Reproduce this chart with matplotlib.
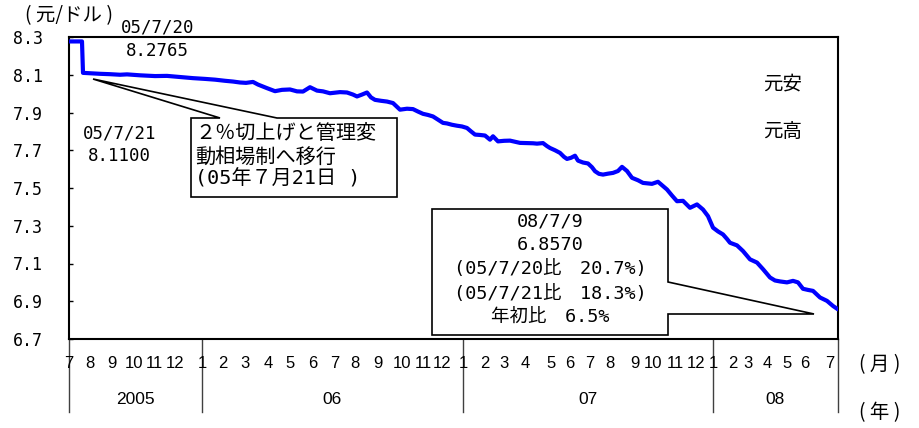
import matplotlib
matplotlib.use('Agg')
import matplotlib.pyplot as plt
from matplotlib.patches import Polygon
import matplotlib.transforms as mtransforms

# ---------------- data ----------------
# trading-day index (from 2005-07-01) and CNY/USD rate
day_idx = [0, 13, 14, 21, 31, 41, 51, 58, 71, 86, 98, 111, 124, 136, 146, 156, 164,
           171, 177, 184, 189, 198, 206, 213, 221, 228, 234, 241, 248, 254, 261, 271,
           278, 284, 288, 293, 298, 302, 306, 312, 318, 324, 331, 338, 344, 349, 354,
           359, 364, 369, 374, 378, 383, 388, 393, 398, 402, 406, 411, 416, 421, 424,
           429, 435, 441, 446, 451, 458, 464, 468, 474, 478, 481, 486, 491, 495, 498,
           502, 506, 509, 514, 519, 523, 526, 530, 534, 539, 544, 549, 553, 558, 563,
           569, 574, 579, 583, 589, 594, 598, 603, 608, 614, 621, 628, 634, 639, 644,
           649, 654, 658, 661, 668, 674, 681, 688, 694, 701, 706, 711, 718, 724, 729,
           734, 739, 744, 751, 758, 764, 769]
rate = [8.2765, 8.2765, 8.110, 8.108, 8.105, 8.103, 8.100, 8.102, 8.097, 8.093, 8.094,
        8.088, 8.082, 8.078, 8.074, 8.068, 8.064, 8.059, 8.057, 8.062, 8.048, 8.029,
        8.013, 8.020, 8.022, 8.012, 8.011, 8.034, 8.016, 8.012, 8.002, 8.008, 8.006,
        7.995, 7.985, 7.995, 8.006, 7.980, 7.967, 7.962, 7.958, 7.950, 7.915, 7.920,
        7.918, 7.905, 7.893, 7.887, 7.879, 7.862, 7.845, 7.842, 7.835, 7.830, 7.826,
        7.818, 7.800, 7.783, 7.781, 7.778, 7.756, 7.774, 7.747, 7.750, 7.751, 7.745,
        7.739, 7.738, 7.737, 7.735, 7.738, 7.722, 7.712, 7.700, 7.686, 7.665, 7.654,
        7.660, 7.671, 7.645, 7.635, 7.630, 7.610, 7.589, 7.575, 7.571, 7.576, 7.580,
        7.590, 7.612, 7.590, 7.554, 7.541, 7.527, 7.524, 7.522, 7.533, 7.510, 7.492,
        7.460, 7.430, 7.432, 7.395, 7.413, 7.386, 7.351, 7.290, 7.270, 7.254, 7.230,
        7.210, 7.196, 7.166, 7.122, 7.105, 7.070, 7.026, 7.010, 7.005, 7.000, 7.008,
        7.000, 6.966, 6.960, 6.955, 6.920, 6.902, 6.875, 6.857]

# first trading day of each month (category positions) and labels
month_start = [0, 21, 43, 65, 85, 106,
               133, 154, 176, 199, 221, 244, 266, 286, 309, 333, 354, 373,
               394, 416, 435, 456, 482, 501, 521, 541, 566, 584, 606, 627,
               644, 664, 679, 698, 718, 736, 761]
month_labels = ['7', '8', '9', '10', '11', '12',
                '1', '2', '3', '4', '5', '6', '7', '8', '9', '10', '11', '12',
                '1', '2', '3', '4', '5', '6', '7', '8', '9', '10', '11', '12',
                '1', '2', '3', '4', '5', '6', '7']
year_labels = ['2005', '06', '07', '08']
year_bounds = [0, 133, 394, 644, 769]
yticks = [6.7, 6.9, 7.1, 7.3, 7.5, 7.7, 7.9, 8.1, 8.3]

# ---------------- layout ----------------
W, H = 920, 428
L, R, T, B = 69, 838, 37, 339
MONO = ['DejaVu Sans Mono', 'Noto Sans CJK JP']
CJK = ['Noto Sans CJK JP', 'DejaVu Sans']
ARIAL = ['Liberation Sans', 'DejaVu Sans']

fig = plt.figure(figsize=(W / 100, H / 100), dpi=100)
ax = fig.add_axes([L / W, (H - B) / H, (R - L) / W, (B - T) / H])
ax.set_xlim(year_bounds[0], year_bounds[-1])
ax.set_ylim(yticks[0], yticks[-1])

ax.plot(day_idx, rate, color='#0000ff', lw=3, solid_joinstyle='round',
        solid_capstyle='round', zorder=3)

for s in ax.spines.values():
    s.set_linewidth(1.5)
    s.set_color('black')

ax.set_yticks(yticks)
ax.set_yticklabels([f'{v:.1f}' for v in yticks], family=MONO, fontsize=12)
ax.tick_params(axis='y', direction='in', length=3, width=1, pad=19)
ax.set_xticks([])

# month / year category labels below the axis
bt = mtransforms.blended_transform_factory(ax.transData, ax.transAxes)
for pos, lab in zip(month_start, month_labels):
    ax.text(pos, (B - 364) / (B - T), lab, transform=bt, ha='center', va='center',
            family=ARIAL, fontsize=12)
for i, lab in enumerate(year_labels):
    c = (year_bounds[i] + year_bounds[i + 1]) / 2
    ax.text(c, (B - 400) / (B - T), lab, transform=bt, ha='center', va='center',
            family=ARIAL, fontsize=12.5)
for xb in year_bounds:
    ax.plot([xb, xb], [0, -(412 - B) / (B - T)], transform=bt, color='#404040',
            lw=1, clip_on=False)


def af(px, py):
    return ((px - L) / (R - L), (B - py) / (B - T))


def ftxt(px, py, s, **kw):
    fig.text(px / W, 1 - py / H, s, **kw)


# units
ftxt(69, 16, '( 元/ドル )', ha='center', va='center', family=CJK, fontsize=14)
ftxt(880, 365, '( 月 )', ha='center', va='center', family=CJK, fontsize=14)
ftxt(880, 413, '( 年 )', ha='center', va='center', family=CJK, fontsize=14)

# point annotations
ftxt(121, 27, '05/7/20', ha='left', va='center', family=MONO, fontsize=12.5)
ftxt(126, 51, '8.2765', ha='left', va='center', family=MONO, fontsize=12.5)
ftxt(83, 133, '05/7/21', ha='left', va='center', family=MONO, fontsize=12.5)
ftxt(88, 156, '8.1100', ha='left', va='center', family=MONO, fontsize=12.5)

ftxt(783, 84, '元安', ha='center', va='center', family=CJK, fontsize=14)
ftxt(783, 132, '元高', ha='center', va='center', family=CJK, fontsize=14)

# callout 1
pts1 = [af(191, 118), af(220, 118), af(93, 79), af(277, 118), af(397, 118),
        af(397, 197), af(191, 197)]
ax.add_patch(Polygon(pts1, closed=True, transform=ax.transAxes, facecolor='white',
                     edgecolor='black', lw=1.2, clip_on=False, zorder=4))
ftxt(195, 133, '２％切上げと管理変', ha='left', va='center', family=MONO, fontsize=14.5, zorder=5)
ftxt(195, 157, '動相場制へ移行', ha='left', va='center', family=MONO, fontsize=14.5, zorder=5)
ftxt(195, 179, '(05年７月21日 )', ha='left', va='center', family=MONO, fontsize=14.5, zorder=5)

# callout 2
pts2 = [af(432, 209), af(668, 209), af(668, 282), af(814, 314), af(668, 314),
        af(668, 335), af(432, 335)]
ax.add_patch(Polygon(pts2, closed=True, transform=ax.transAxes, facecolor='white',
                     edgecolor='black', lw=1.2, clip_on=False, zorder=4))
lines2 = ['08/7/9', '6.8570', '(05/7/20比　20.7%)', '(05/7/21比　18.3%)', '年初比　6.5%']
for yy, s in zip([222, 245, 269, 294, 317], lines2):
    ftxt(550, yy, s, ha='center', va='center', family=MONO, fontsize=13.3, zorder=5)

fig.savefig('out.png', dpi=100)
